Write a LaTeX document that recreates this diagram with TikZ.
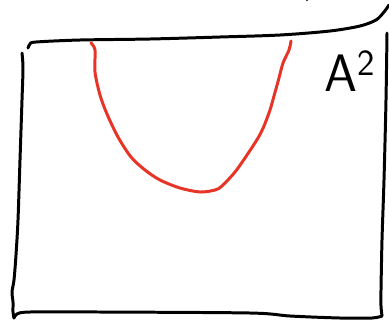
\documentclass[tikz,border=0pt]{standalone}
\usepackage{tikz}
\definecolor{penred}{RGB}{232,52,38}
\tikzset{pen/.style={line width=1.7pt, line cap=round, line join=round}}

\begin{document}
\begin{tikzpicture}[x=0.02cm, y=-0.02cm]

    \useasboundingbox (0,0) rectangle (389,322);

    % BOX (hand drawn)
    \draw[pen] plot[smooth] coordinates {(28,48) (30,44) (36,42) (80,40) (150,39) (220,37) (280,35) (330,31) (360,26) (376,20) (384,12) (389,5)};
    \draw[pen] plot[smooth] coordinates {(22,53) (23,68) (22,100) (20,160) (18,220) (16,255) (14,280) (12,292) (13,302) (13,312) (14,318)};
    \draw[pen] plot[smooth] coordinates {(14,318) (17,314) (30,312) (100,312) (250,313) (290,316) (340,318) (372,318) (382,316)};
    \draw[pen] plot[smooth] coordinates {(387,33) (386,100) (384,180) (382,240) (381,290) (381,306) (382,316)};
    \fill (307,0) circle (1.2);

    % CURVE
    \draw[pen, penred] plot[smooth] coordinates {(91,43) (95,50) (95,72) (100,95) (107,114) (118,137) (131,157) (145,170) (160,180) (180,188) (200,192) (215,190) (222,186) (235,172) (247,155) (258,138) (264,126) (270,110) (274,96) (279,78) (283,63) (289,50) (291,41)};

    % LABEL
    \node[anchor=base west, inner sep=0pt, font=\sffamily\fontsize{30}{32}\selectfont] (sq) at (324,91) {A\textsuperscript{2}};

\end{tikzpicture}
\end{document}
